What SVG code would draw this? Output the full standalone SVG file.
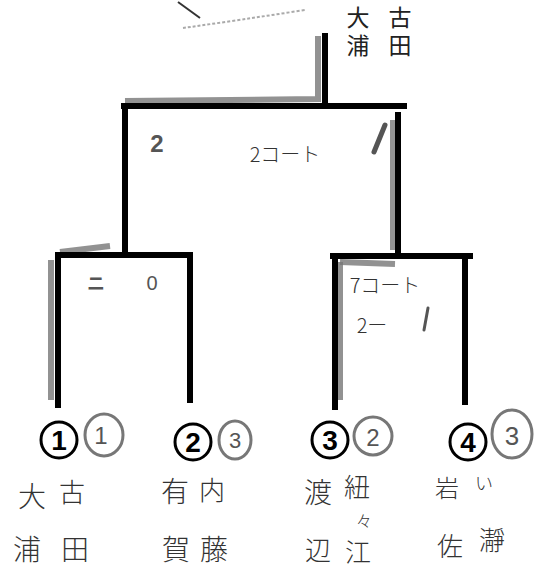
<svg xmlns="http://www.w3.org/2000/svg" width="538" height="577" viewBox="0 0 538 577">
<style>
.ln{stroke:#000;stroke-width:6;fill:none;stroke-linecap:square}
.sh{stroke:#777;stroke-width:6;fill:none;opacity:0.8}
.hw{font-family:"Noto Sans CJK JP",sans-serif;font-weight:300;fill:#333;text-anchor:middle}
.vt{font-family:"Noto Sans CJK JP",sans-serif;font-weight:400;fill:#222;writing-mode:vertical-rl;text-anchor:start;font-size:23px;letter-spacing:5px}
.gr{font-family:"Liberation Sans","Noto Sans CJK JP",sans-serif;fill:#555;text-anchor:middle}
.cb{fill:#fff;stroke:#000;stroke-width:3}
.cg{fill:none;stroke:#777;stroke-width:3}
.num{font-family:"Liberation Sans",sans-serif;font-weight:bold;font-size:28px;text-anchor:middle;fill:#000}
</style>
<rect width="538" height="577" fill="#fff"/>
<g id="scribble">
<path d="M178,2 L200,18" stroke="#333" stroke-width="2" fill="none"/>
<path d="M183,28 Q240,20 305,10" stroke="#aaa" stroke-width="2" fill="none" stroke-dasharray="3,2"/>
</g>
<g id="connectors">
<path class="sh" d="M125,101 L318,99 L318,36"/>
<path class="sh" d="M51,260 L51,400"/>
<path class="sh" d="M340,262 L340,400"/>
<path class="sh" d="M393,120 L393,250"/>
<path class="sh" d="M60,252 L110,246"/>
<path class="sh" d="M340,262 L395,264"/>
<path class="ln" d="M325,36 L325,106"/>
<path class="ln" d="M124,106 L404,106"/>
<path class="ln" d="M125,106 L125,255"/>
<path class="ln" d="M398,115 L398,255"/>
<path class="ln" d="M58,255 L190,255"/>
<path class="ln" d="M58,258 L58,405"/>
<path class="ln" d="M190,255 L190,400"/>
<path class="ln" d="M333,256 L470,256"/>
<path class="ln" d="M335,258 L335,407"/>
<path class="ln" d="M465,258 L465,402"/>
</g>
<g id="final">
<text class="vt" x="358" y="6">大浦</text>
<text class="vt" x="400" y="6">古田</text>
</g>
<g id="scores">
<text class="gr" x="157" y="152" font-size="24" font-weight="bold" fill="#666">2</text>
<text class="hw" x="285" y="162" font-size="20" fill="#222">2コート</text>
<path d="M385,125 L374,152" stroke="#555" stroke-width="5" stroke-linecap="round"/>
<text class="gr" x="96" y="290" font-size="18" font-weight="bold" fill="#666">ニ</text>
<text class="gr" x="152" y="290" font-size="20" fill="#666">0</text>
<text class="hw" x="385" y="293" font-size="20" fill="#333">7コート</text>
<text class="hw" x="372" y="333" font-size="20" fill="#333">2ー</text>
<path d="M428,308 L424,330" stroke="#555" stroke-width="3" stroke-linecap="round"/>
</g>
<g id="p1">
<circle class="cb" cx="59" cy="440" r="18"/>
<text class="num" x="59" y="450">1</text>
<ellipse class="cg" cx="104" cy="435" rx="19" ry="21"/>
<text class="gr" x="101" y="444" font-size="24">1</text>
<text class="hw" x="32" y="507" font-size="28">大</text>
<text class="hw" x="72" y="502" font-size="26">古</text>
<text class="hw" x="27" y="560" font-size="28">浦</text>
<text class="hw" x="75" y="560" font-size="28">田</text>
</g>
<g id="p2">
<circle class="cb" cx="193" cy="442" r="18"/>
<text class="num" x="193" y="452">2</text>
<ellipse class="cg" cx="235" cy="440" rx="16" ry="19"/>
<text class="gr" x="235" y="448" font-size="22">3</text>
<text class="hw" x="175" y="502" font-size="28">有</text>
<text class="hw" x="212" y="500" font-size="26">内</text>
<text class="hw" x="176" y="560" font-size="28">賀</text>
<text class="hw" x="214" y="560" font-size="28">藤</text>
</g>
<g id="p3">
<circle class="cb" cx="330" cy="440" r="18"/>
<text class="num" x="330" y="450">3</text>
<ellipse class="cg" cx="373" cy="436" rx="19" ry="19"/>
<text class="gr" x="373" y="446" font-size="24">2</text>
<text class="hw" x="318" y="503" font-size="28">渡</text>
<text class="hw" x="357" y="497" font-size="26">紐</text>
<text class="hw" x="364" y="527" font-size="16">々</text>
<text class="hw" x="318" y="560" font-size="26">辺</text>
<text class="hw" x="358" y="562" font-size="26">江</text>
</g>
<g id="p4">
<circle class="cb" cx="468" cy="442" r="18"/>
<text class="num" x="468" y="452">4</text>
<ellipse class="cg" cx="512" cy="434" rx="20" ry="24"/>
<text class="gr" x="512" y="445" font-size="26">3</text>
<text class="hw" x="447" y="497" font-size="24">岩</text>
<text class="hw" x="484" y="490" font-size="18">い</text>
<text class="hw" x="450" y="556" font-size="26">佐</text>
<text class="hw" x="492" y="550" font-size="26">瀞</text>
</g>
</svg>
